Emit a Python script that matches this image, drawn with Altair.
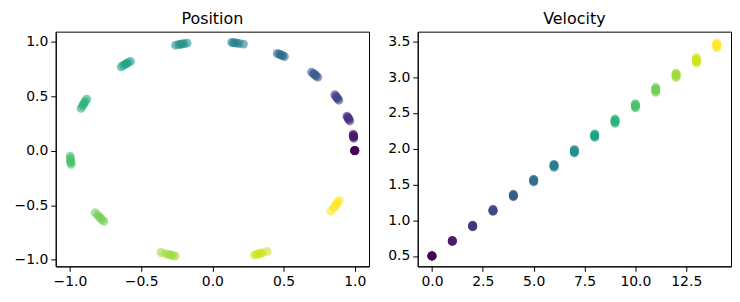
import altair as alt
import pandas as pd

# one row per (time step, sample); the same sample appears in both panels
step = [s for s in range(15) for _ in range(6)]

pos_x = [
    1.000, 1.000, 1.000, 1.000, 1.000, 1.000,
    0.993, 0.992, 0.992, 0.991, 0.990, 0.989,
    0.965, 0.959, 0.956, 0.953, 0.950, 0.945,
    0.888, 0.880, 0.876, 0.872, 0.867, 0.860,
    0.740, 0.729, 0.722, 0.716, 0.709, 0.697,
    0.506, 0.494, 0.485, 0.478, 0.470, 0.456,
    0.218, 0.188, 0.172, 0.160, 0.148, 0.136,
    -0.178, -0.200, -0.212, -0.224, -0.236, -0.258,
    -0.575, -0.592, -0.603, -0.613, -0.624, -0.640,
    -0.882, -0.893, -0.900, -0.906, -0.912, -0.922,
    -0.999, -0.997, -0.996, -0.995, -0.993, -0.992,
    -0.823, -0.806, -0.796, -0.786, -0.776, -0.762,
    -0.360, -0.330, -0.306, -0.293, -0.280, -0.262,
    0.296, 0.312, 0.324, 0.336, 0.350, 0.384,
    0.832, 0.852, 0.862, 0.871, 0.879, 0.890,
]

pos_y = [
    0.000, 0.000, 0.001, 0.000, -0.001, 0.000,
    0.114, 0.125, 0.130, 0.135, 0.140, 0.150,
    0.272, 0.286, 0.293, 0.300, 0.307, 0.316,
    0.462, 0.476, 0.484, 0.491, 0.499, 0.512,
    0.673, 0.685, 0.693, 0.700, 0.706, 0.719,
    0.862, 0.870, 0.875, 0.879, 0.884, 0.890,
    0.976, 0.982, 0.985, 0.987, 0.989, 0.991,
    0.984, 0.980, 0.977, 0.975, 0.972, 0.966,
    0.818, 0.806, 0.798, 0.790, 0.781, 0.768,
    0.471, 0.450, 0.436, 0.423, 0.410, 0.387,
    -0.050, -0.070, -0.085, -0.098, -0.110, -0.125,
    -0.568, -0.591, -0.605, -0.618, -0.631, -0.648,
    -0.933, -0.944, -0.952, -0.956, -0.960, -0.965,
    -0.955, -0.950, -0.946, -0.942, -0.937, -0.923,
    -0.555, -0.523, -0.507, -0.491, -0.477, -0.456,
]

velocity = [
    0.499, 0.500, 0.500, 0.500, 0.500, 0.501,
    0.703, 0.707, 0.709, 0.711, 0.713, 0.716,
    0.906, 0.913, 0.917, 0.921, 0.925, 0.930,
    1.122, 1.130, 1.135, 1.140, 1.145, 1.152,
    1.328, 1.337, 1.342, 1.348, 1.353, 1.362,
    1.535, 1.545, 1.551, 1.557, 1.563, 1.574,
    1.738, 1.752, 1.760, 1.766, 1.772, 1.780,
    1.940, 1.953, 1.960, 1.967, 1.974, 1.988,
    2.157, 2.170, 2.177, 2.184, 2.191, 2.205,
    2.355, 2.371, 2.380, 2.389, 2.398, 2.415,
    2.570, 2.586, 2.595, 2.604, 2.613, 2.628,
    2.787, 2.806, 2.817, 2.828, 2.838, 2.857,
    2.993, 3.014, 3.026, 3.034, 3.042, 3.055,
    3.198, 3.214, 3.225, 3.235, 3.247, 3.275,
    3.410, 3.430, 3.440, 3.450, 3.460, 3.478,
]

pos_ticks = [-1.0, -0.5, 0.0, 0.5, 1.0]
vel_x_ticks = [0.0, 2.5, 5.0, 7.5, 10.0, 12.5]
vel_y_ticks = [0.5, 1.0, 1.5, 2.0, 2.5, 3.0, 3.5]

df = pd.DataFrame({"step": step, "x": pos_x, "y": pos_y, "v": velocity})

FONT = "DejaVu Sans"
color = alt.Color("step:Q", scale=alt.Scale(scheme="viridis", domain=[0, 14]), legend=None)

def ax(values, extent=None):
    kw = dict(values=values, format=".1f", title=None, grid=False,
              domainColor="black", tickColor="black", tickSize=5,
              labelColor="black", labelFontSize=14, labelFont=FONT,
              labelPadding=3, labelFlush=False)
    if extent is not None:
        kw["minExtent"] = extent
        kw["maxExtent"] = extent
    return alt.Axis(**kw)

def ttl(text):
    return alt.TitleParams(text, font=FONT, fontSize=16, fontWeight="normal",
                           color="black", offset=5)

left = alt.Chart(df).mark_circle(size=80, opacity=0.6).encode(
    x=alt.X("x:Q", scale=alt.Scale(domain=[-1.1, 1.1], nice=False, zero=False), axis=ax(pos_ticks)),
    y=alt.Y("y:Q", scale=alt.Scale(domain=[-1.06, 1.09], nice=False, zero=False), axis=ax(pos_ticks, 40)),
    color=color,
).properties(width=315, height=236, title=ttl("Position"))

right = alt.Chart(df).mark_circle(size=80, opacity=0.6).encode(
    x=alt.X("step:Q", scale=alt.Scale(domain=[-0.7, 14.7], nice=False, zero=False), axis=ax(vel_x_ticks)),
    y=alt.Y("v:Q", scale=alt.Scale(domain=[0.355, 3.635], nice=False, zero=False), axis=ax(vel_y_ticks, 32)),
    color=color,
).properties(width=315, height=236, title=ttl("Velocity"))

chart = alt.hconcat(left, right, spacing=15).properties(
    padding={"left": 5, "top": 1, "right": 0, "bottom": 0}
).configure_view(stroke="black", strokeWidth=1)

chart.save("out.html", embed_options={"renderer": "svg", "actions": False})
